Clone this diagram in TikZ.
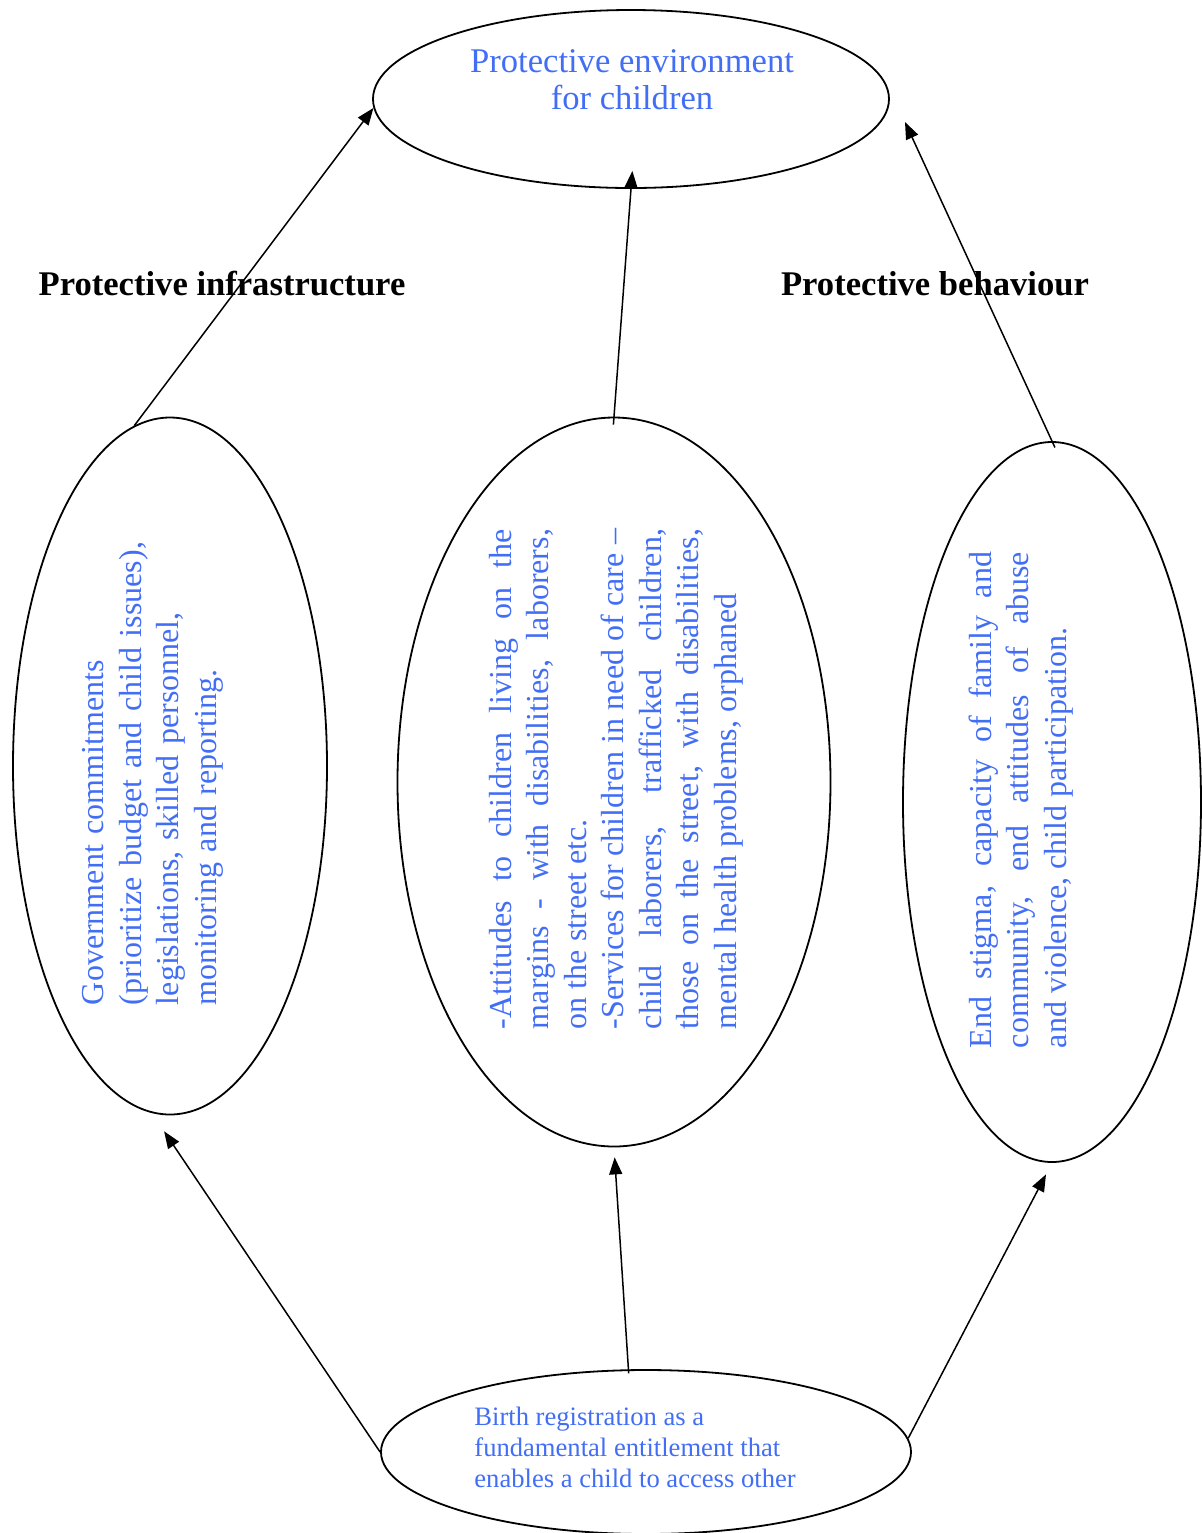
\documentclass[tikz,border=0pt]{standalone}
\usepackage{fontspec}
\setmainfont{Liberation Serif}
\usepackage{xcolor}
\usepackage{tikz}
\usetikzlibrary{shapes.geometric, arrows.meta, positioning}
\definecolor{textblue}{RGB}{66, 110, 245}

\begin{document}
\begin{tikzpicture}[
        x=0.5pt, y=-0.5pt,
        oval/.style={ellipse, draw=black, line width=0.9pt, inner sep=0pt},
        bluetext/.style={text=textblue, inner sep=0pt, font=\fontsize{16}{18.75}\selectfont},
        sidetext/.style={bluetext, rotate=90, align=justify},
        heading/.style={inner sep=0pt, font=\fontsize{17.3}{18.5}\selectfont\bfseries},
        arrow/.style={-{Triangle[length=8.5pt, width=6.5pt]}, line width=0.75pt}
    ]
        \useasboundingbox (0,0) rectangle (1201,1533);

        % Ovals
        \node[oval, minimum width=258pt, minimum height=89pt] (env) at (631,99) {};
        \node[oval, minimum width=157pt, minimum height=348.5pt] (gov) at (170,766) {};
        \node[oval, minimum width=216.5pt, minimum height=364.5pt] (services) at (614,782) {};
        \node[oval, minimum width=149pt, minimum height=360pt] (behaviour) at (1052,802) {};
        \node[oval, minimum width=265pt, minimum height=82pt] (birth) at (646,1452) {};

        % Texts
        \node[text=textblue, inner sep=0pt, align=center, font=\fontsize{17.3}{18.5}\selectfont] (envtext) at (632,80) {Protective environment\\for children};
        \node[bluetext, rotate=90, align=left, text width=240pt] (govtext) at (153,765)
            {Government commitments\\(prioritize budget and child issues),\\legislations, skilled personnel,\\monitoring and reporting.};
        \node[sidetext, text width=250pt] (servicestext) at (616,779)
            {-Attitudes to children living on the\linebreak margins - with disabilities, laborers,\linebreak on the street etc.\\-Services for children in need of care --\linebreak child laborers, trafficked children,\linebreak those on the street, with disabilities,\linebreak mental health problems, orphaned};
        \node[sidetext, text width=248pt] (behaviourtext) at (1021,800)
            {End stigma, capacity of family and\linebreak community, end attitudes of abuse\linebreak and violence, child participation.};
        \node[text=textblue, inner sep=0pt, align=left, anchor=north west, font=\fontsize{13.3}{15.5}\selectfont] (birthtext) at (474,1407)
            {Birth registration as a\\fundamental entitlement that\\enables a child to access other};

        % Headings
        \node[heading] (infra) at (222,284) {Protective infrastructure};
        \node[heading] (behav) at (935,284) {Protective behaviour};

        % Arrows
        \coordinate (envtip) at (905,122);
        \draw[arrow] (gov.96) -- (env.182);
        \draw[arrow, shorten <=-4pt, shorten >=-9pt] (services.north) -- (env.south);
        \draw[arrow, shorten <=-3.5pt] (behaviour.north) -- (envtip);
        \draw[arrow, shorten >=11pt] (birth.west) -- (gov.-93);
        \draw[arrow, shorten <=-2pt, shorten >=5pt] (birth.102) -- (services.south);
        \draw[arrow, shorten >=6.5pt] (birth.3) -- (behaviour.south);
    \end{tikzpicture}
\end{document}
